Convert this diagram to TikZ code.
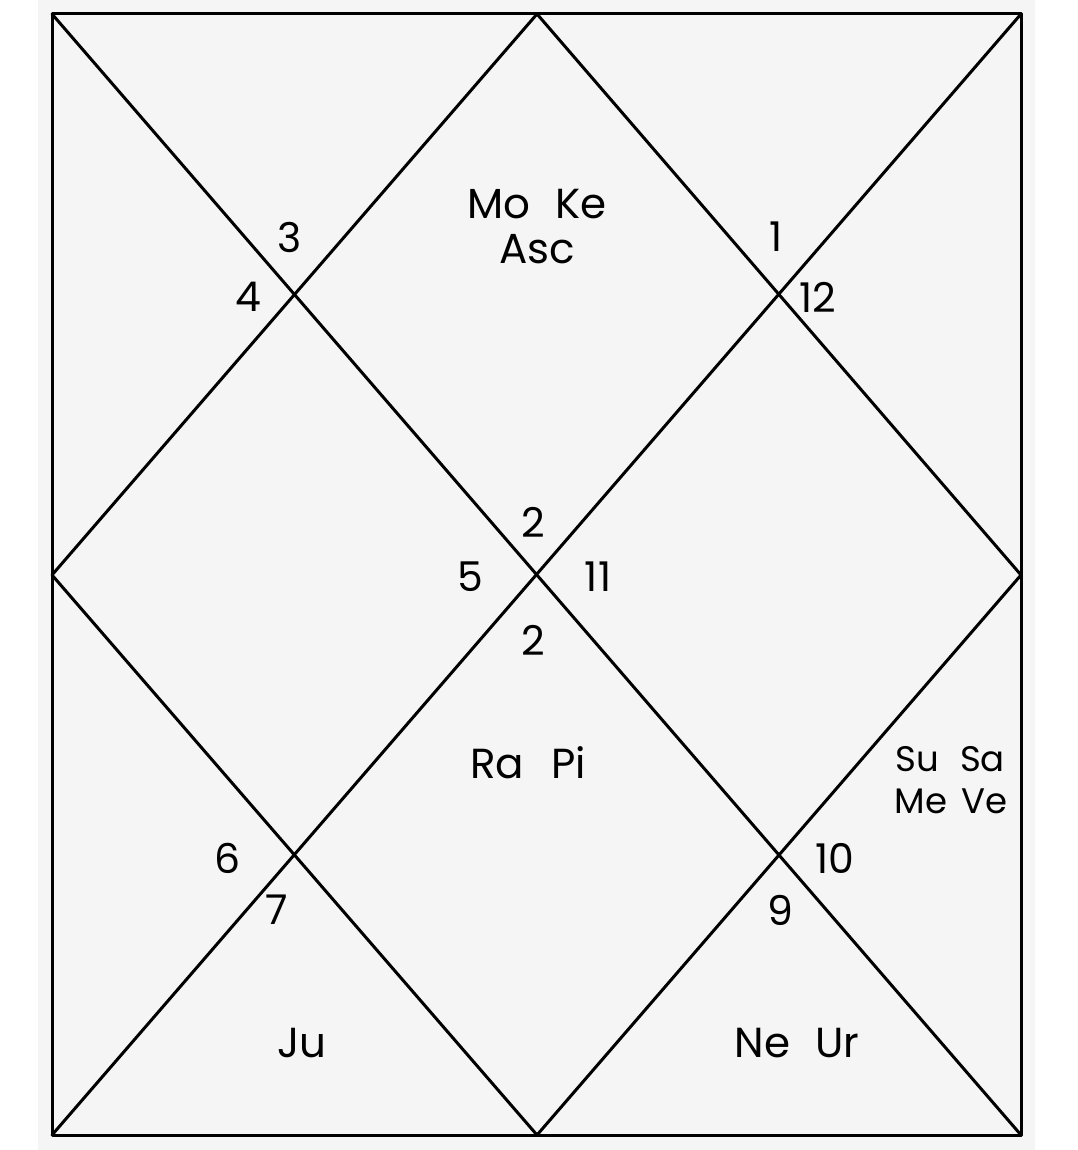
\documentclass[tikz,border=0pt]{standalone}
\usepackage{fontspec}
\setmainfont{Poppins}
\usepackage{tikz}
\definecolor{chartbg}{RGB}{245,245,245}

\begin{document}
\begin{tikzpicture}[
    x=1pt, y=-1pt,
    edge/.style={draw=black, line width=3pt, line cap=round, line join=round},
    house/.style={font=\fontsize{41}{46}\selectfont, inner sep=0pt, align=center},
    planet/.style={font=\fontsize{42}{46}\selectfont, inner sep=0pt, align=center},
    small planet/.style={font=\fontsize{35.5}{42}\selectfont, inner sep=0pt, align=center}
]

% background and frame
\fill[chartbg] (38,0) rectangle (1035,1150);
\useasboundingbox (0,0) rectangle (1077,1150);

\coordinate (tl) at (52,14);
\coordinate (tr) at (1021,14);
\coordinate (br) at (1021,1135);
\coordinate (bl) at (52,1135);
\coordinate (top) at (537,14);
\coordinate (right) at (1021,575);
\coordinate (bottom) at (537,1135);
\coordinate (left) at (52,575);

\draw[edge] (tl) -- (tr) -- (br) -- (bl) -- cycle;
\draw[edge] (tl) -- (br);
\draw[edge] (tr) -- (bl);
\draw[edge] (top) -- (right) -- (bottom) -- (left) -- cycle;

% house numbers
\node[house] (h1) at (776,237) {1};
\node[house] (h12) at (818,297) {12};
\node[house] (h3) at (290,237) {3};
\node[house] (h4) at (248,297) {4};
\node[house] (h2a) at (533,522) {2};
\node[house] (h5) at (470,577) {5};
\node[house] (h11) at (598,577) {11};
\node[house] (h2b) at (533,640) {2};
\node[house] (h6) at (228,858) {6};
\node[house] (h7) at (277,910) {7};
\node[house] (h10) at (835,858) {10};
\node[house] (h9) at (780,910) {9};

% planets
\node[planet] (moke) at (537,204) {Mo\hspace{0.6em}Ke};
\node[planet] (asc) at (537,249) {Asc};
\node[planet] (rapi) at (528,763) {Ra\hspace{0.65em}Pi};
\node[small planet] (susa) at (950,759) {Su\hspace{0.6em}Sa};
\node[small planet] (meve) at (951,801) {Me\hspace{0.4em}Ve};
\node[planet] (ju) at (302,1043) {Ju};
\node[planet] (neur) at (797,1043) {Ne\hspace{0.6em}Ur};

\end{tikzpicture}
\end{document}
